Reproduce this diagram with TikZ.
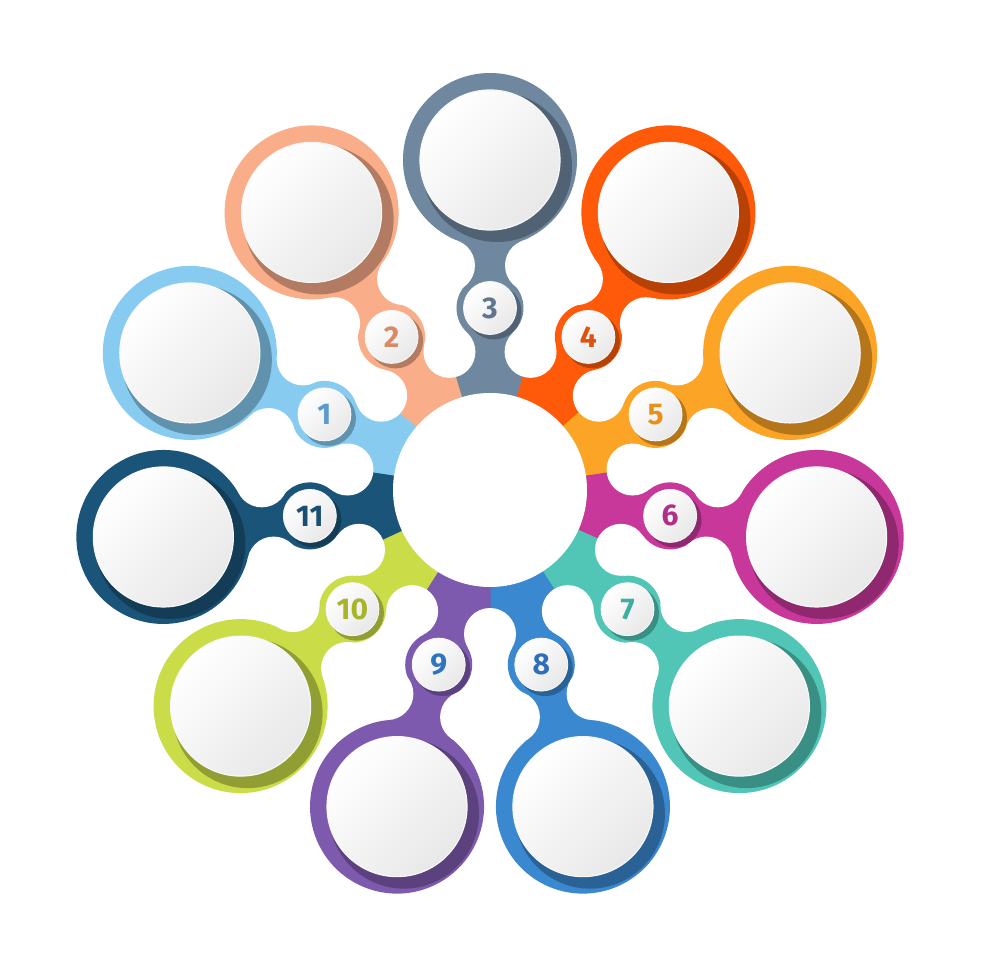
\documentclass[tikz,border=0pt]{standalone}
\usepackage{fontspec}
\setmainfont{Fira Sans}
\definecolor{c1}{HTML}{87CBF0}
\definecolor{c2}{HTML}{F9AD88}
\definecolor{c3}{HTML}{6F88A0}
\definecolor{c4}{HTML}{FF5A09}
\definecolor{c5}{HTML}{FBA425}
\definecolor{c6}{HTML}{C7389A}
\definecolor{c7}{HTML}{51C6B7}
\definecolor{c8}{HTML}{3A88D0}
\definecolor{c9}{HTML}{7E5AAF}
\definecolor{c10}{HTML}{CADC47}
\definecolor{c11}{HTML}{1B5479}
\definecolor{n1}{HTML}{5A9BCF}
\definecolor{n2}{HTML}{D98A66}
\definecolor{n3}{HTML}{5E7690}
\definecolor{n4}{HTML}{E0520C}
\definecolor{n5}{HTML}{E8911A}
\definecolor{n6}{HTML}{B02F88}
\definecolor{n7}{HTML}{3FAEA0}
\definecolor{n8}{HTML}{2F6FB8}
\definecolor{n9}{HTML}{2F74C0}
\definecolor{n10}{HTML}{A8B52A}
\definecolor{n11}{HTML}{1A4F72}
\tikzset{
  whitedisc/.style={top color=white, bottom color=black!9, shading angle=45, draw=black!3, line width=1.2pt},
  numtext/.style={font=\fontsize{30}{30}\selectfont\bfseries}
}
\begin{document}
\begin{tikzpicture}[x=1pt,y=1pt]
\useasboundingbox (-490,-490) rectangle (490,490);
\fill[white] (-490,-490) rectangle (490,490);
\def\half{16.3636}
% coloured petals
\foreach \k/\c in {1/c1,2/c2,3/c3,4/c4,5/c5,6/c6,7/c7,8/c8,9/c9,10/c10,11/c11}{
  \pgfmathsetmacro\a{90-(\k-3)*360/11}
  \begin{scope}[rotate=\a]
    \fill[\c] (0,0) -- (-16.7:135) arc[start angle=-16.7, end angle=16.7, radius=135] -- cycle;
    \fill[\c] (90,-23) rectangle (185,23);
    \fill[\c] (182,0) circle[radius=33.5];
    \fill[\c] (180,-23) -- (206,-23) -- (250,-32) -- (300,-32) -- (300,32) -- (250,32) -- (206,23) -- (180,23) -- cycle;
    \fill[\c] (330,0) circle[radius=87];
  \end{scope}
}
% white carving
\foreach \k in {1,...,11}{
  \pgfmathsetmacro\a{90-(\k-3)*360/11}
  \fill[white] ({\a+\half}:144) circle[radius=26];
  \fill[white] ({\a+10.43}:228.3) circle[radius=26.3];
  \fill[white] ({\a-10.43}:228.3) circle[radius=26.3];
}
\fill[white] (0,0) circle[radius=97];
% discs, shadows and numbers
\foreach \k/\c/\n in {1/c1/n1,2/c2/n2,3/c3/n3,4/c4/n4,5/c5/n5,6/c6/n6,7/c7/n7,8/c8/n8,9/c9/n9,10/c10/n10,11/c11/n11}{
  \pgfmathsetmacro\a{90-(\k-3)*360/11}
  \begin{scope}
    \clip ({\a}:330) circle[radius=86.5];
    \fill[\c!72!black, xshift=7pt, yshift=-7pt] ({\a}:330) circle[radius=75];
  \end{scope}
  \shade[whitedisc] ({\a}:330) circle[radius=70];
  \begin{scope}
    \clip ({\a}:182) circle[radius=33];
    \fill[\c!72!black, xshift=4pt, yshift=-4pt] ({\a}:182) circle[radius=27.5];
  \end{scope}
  \shade[whitedisc, line width=0.8pt] ({\a}:182) circle[radius=26.5];
  \node[numtext, text=\n] (num\k) at ({\a}:182) {\k};
}
\end{tikzpicture}
\end{document}
